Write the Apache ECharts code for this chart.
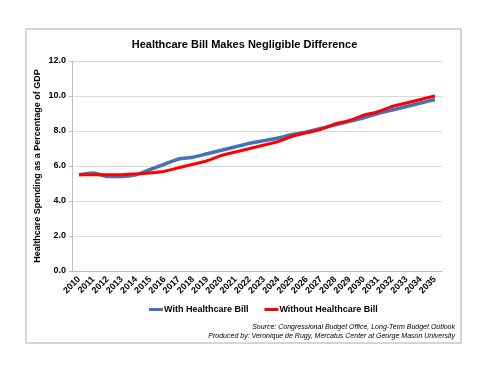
<!DOCTYPE html>
<html><head><meta charset="utf-8">
<script src="https://cdn.jsdelivr.net/npm/echarts@6/dist/echarts.min.js"></script>
<style>html,body{margin:0;padding:0;background:#fff}#c{width:489px;height:374px}</style>
</head><body><div id="c"></div>
<script>
const years = ['2010','2011','2012','2013','2014','2015','2016','2017','2018','2019','2020','2021','2022','2023','2024','2025','2026','2027','2028','2029','2030','2031','2032','2033','2034','2035'];
const withBill = [5.5,5.6,5.4,5.4,5.5,5.8,6.1,6.4,6.5,6.7,6.9,7.1,7.3,7.45,7.6,7.8,7.95,8.15,8.35,8.55,8.75,9.0,9.2,9.4,9.6,9.8];
const withoutBill = [5.5,5.5,5.5,5.5,5.55,5.6,5.7,5.9,6.1,6.3,6.6,6.8,7.0,7.2,7.4,7.7,7.9,8.1,8.4,8.6,8.9,9.1,9.4,9.6,9.8,10.0];
const seriesNames = ['With Healthcare Bill','Without Healthcare Bill'];
const titleText = 'Healthcare Bill Makes Negligible Difference';
const yName = 'Healthcare Spending as a Percentage of GDP';
const sourceLines = ['Source: Congressional Budget Office, Long-Term Budget Outlook','Produced by: Veronique de Rugy, Mercatus Center at George Mason University'];

const font = 'Liberation Sans, Arial, sans-serif';
const chart = echarts.init(document.getElementById('c'));
chart.setOption({
  animation: false,
  textStyle: {fontFamily: font},
  title: {text: titleText, left: 'center', top: 34, textStyle: {fontSize: 11, fontWeight: 'bold', color: '#000', fontFamily: font}},
  grid: {left: 72, right: 47, top: 61, bottom: 103},
  legend: {
    top: 300, left: 144, itemWidth: 14, itemHeight: 3, itemGap: 16,
    icon: 'rect',
    textStyle: {fontSize: 9, fontWeight: 'bold', color: '#000', fontFamily: font, padding: [0,0,0,-4]},
    data: seriesNames
  },
  xAxis: {
    type: 'category', data: years, boundaryGap: true,
    axisLine: {lineStyle: {color: '#bfbfbf'}},
    axisTick: {show: false},
    axisLabel: {rotate: 45, fontSize: 9, fontWeight: 'bold', color: '#000', interval: 0, margin: 7, fontFamily: font}
  },
  yAxis: {
    type: 'value', min: 0, max: 12, interval: 2,
    name: yName, nameLocation: 'middle', nameGap: 30, nameMoveOverlap: false,
    nameTextStyle: {fontSize: 9, fontWeight: 'bold', color: '#000', fontFamily: font},
    axisLine: {show: true, lineStyle: {color: '#bfbfbf'}},
    axisTick: {show: true, length: 3, lineStyle: {color: '#bfbfbf'}},
    splitLine: {lineStyle: {color: '#d9d9d9'}},
    axisLabel: {formatter: v => v.toFixed(1), fontSize: 9, fontWeight: 'bold', color: '#000', margin: 6, fontFamily: font}
  },
  series: [
    {name: seriesNames[0], type: 'line', data: withBill, symbol: 'none', smooth: 0.2, lineStyle: {width: 3.5, color: '#4572b4'}, itemStyle: {color: '#4572b4'}},
    {name: seriesNames[1], type: 'line', data: withoutBill, symbol: 'none', smooth: 0.2, lineStyle: {width: 3, color: '#ff0000'}, itemStyle: {color: '#ff0000'}}
  ],
  graphic: [
    {type: 'rect', shape: {x: 26, y: 29, width: 435, height: 314}, style: {fill: 'none', stroke: '#c8c8c8', lineWidth: 1.5}, z: -1},
    {type: 'text', right: 34, top: 324, style: {text: sourceLines[0], font: 'italic 7px ' + font, fill: '#000', align: 'right'}},
    {type: 'text', right: 34, top: 333, style: {text: sourceLines[1], font: 'italic 7px ' + font, fill: '#000', align: 'right'}}
  ]
});
</script></body></html>
